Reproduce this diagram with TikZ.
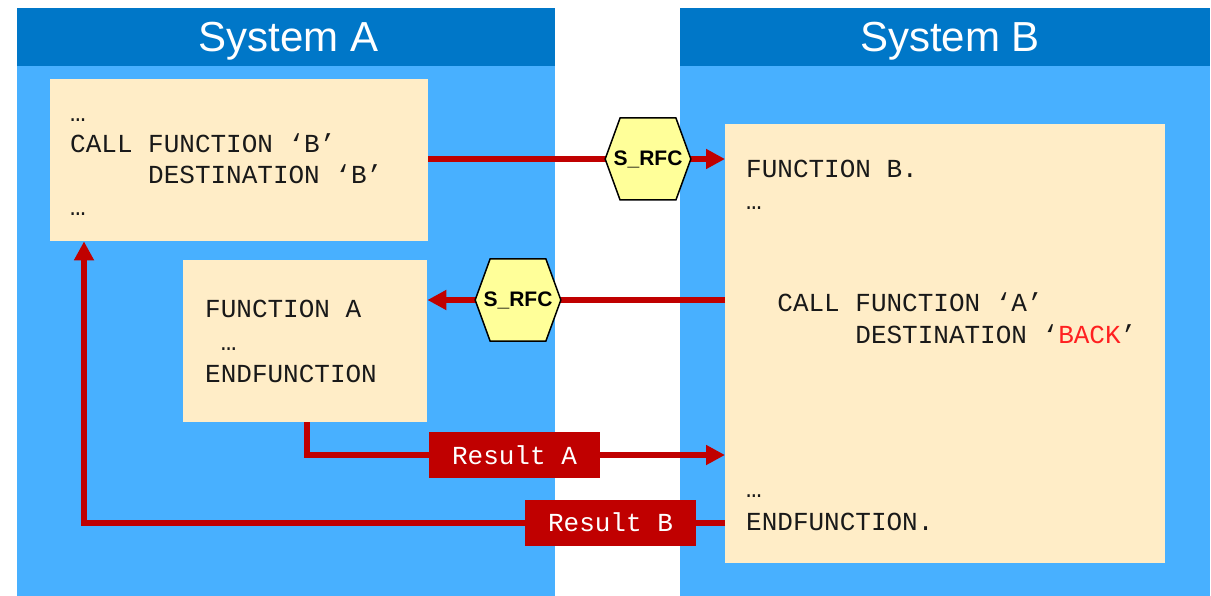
\documentclass[tikz,border=0pt]{standalone}
\usepackage{fontspec}
\setmainfont{Liberation Sans}
\newfontfamily\codefont{Liberation Mono}
\usetikzlibrary{positioning,shapes.symbols,arrows.meta}

\definecolor{hdblue}{RGB}{0,119,200}
\definecolor{panelblue}{RGB}{72,176,255}
\definecolor{codebg}{RGB}{255,237,199}
\definecolor{flowred}{RGB}{192,0,0}
\definecolor{hexyellow}{RGB}{255,255,153}
\definecolor{backred}{RGB}{255,32,32}

\pgfdeclarelayer{front}
\pgfsetlayers{main,front}

\tikzset{
  panel/.style={fill=panelblue, anchor=north west, inner sep=0pt},
  header/.style={fill=hdblue, anchor=north west, inner sep=0pt},
  title/.style={anchor=base, inner sep=0pt, text=white,
    font=\fontsize{42}{50}\selectfont},
  codebox/.style={fill=codebg, anchor=north west, inner sep=0pt},
  code/.style={anchor=base west, inner sep=0pt, text=black!90,
    font=\codefont\fontsize{26}{31}\selectfont},
  rfc/.style={signal, signal to=east and west, signal pointer angle=140,
    fill=hexyellow, draw=black, line width=1.5pt, minimum width=57pt,
    minimum height=82pt, inner xsep=-6.5pt, inner ysep=0pt,
    font=\bfseries\fontsize{21}{25}\selectfont},
  result/.style={fill=flowred, text=white, minimum width=171pt, minimum height=46pt,
    inner sep=0pt, font=\codefont\fontsize{26}{31}\selectfont},
  flow/.style={draw=flowred, line width=6pt},
  flowarrow/.style={flow, -{Triangle[length=19pt,width=19pt]}},
}

\begin{document}
\begin{tikzpicture}[x=1pt,y=-1pt]
    \useasboundingbox (0,0) rectangle (1211,596);

    % Panels of the two systems
    \node[panel, minimum width=538pt, minimum height=588pt] (sysA) at (17,8) {};
    \node[header, minimum width=538pt, minimum height=58pt] (headA) at (17,8) {};
    \node[title] (titleA) at (288.5,52) {System A};
    \node[panel, minimum width=530pt, minimum height=588pt] (sysB) at (680,8) {};
    \node[header, minimum width=530pt, minimum height=58pt] (headB) at (680,8) {};
    \node[title] (titleB) at (950,52) {System B};

    % Code boxes
    \node[codebox, minimum width=378pt, minimum height=162pt] (a1) at (50,79) {};
    \node[codebox, minimum width=244pt, minimum height=162pt] (a2) at (183,260) {};
    \node[codebox, minimum width=440pt, minimum height=439pt] (b) at (725,124) {};

    % Code in system A
    \node[code] (a1l1) at (70,122) {…};
    \node[code] (a1l2) at (70,153) {CALL FUNCTION ‘B’};
    \node[code] (a1l3) at (70,184) {\phantom{CALL }DESTINATION ‘B’};
    \node[code] (a1l4) at (70,216) {…};
    \node[code] (a2l1) at (205,317) {FUNCTION A};
    \node[code] (a2l2) at (205,350) {\phantom{F}…};
    \node[code] (a2l3) at (205,382) {ENDFUNCTION};

    % Code in system B
    \node[code] (bl1) at (746,178) {FUNCTION B.};
    \node[code] (bl2) at (746,210) {…};
    \node[code] (bl3) at (746,312) {\phantom{CA}CALL FUNCTION ‘A’};
    \node[code] (bl4) at (746,343) {\phantom{CACALL }DESTINATION ‘\textcolor{backred}{BACK}’};
    \node[code] (bl5) at (746,497) {…};
    \node[code] (bl6) at (746,530) {ENDFUNCTION.};

    \begin{pgfonlayer}{front}
        \node[rfc] (hex1) at (648,159) {S\_RFC};
        \node[rfc] (hex2) at (518,300) {S\_RFC};
        \node[result] (resA) at (514.5,455) {Result A};
        \node[result] (resB) at (610.5,522.5) {Result B};
    \end{pgfonlayer}

    % Calls
    \draw[flow] (a1.east |- hex1) -- (hex1.center);
    \draw[flowarrow] (hex1.center) -- (hex1 -| b.west);
    \draw[flow] (hex2 -| b.west) -- (hex2.center);
    \draw[flowarrow] (hex2.center) -- (hex2 -| a2.east);

    % Results
    \coordinate (bendA) at (307,455);
    \draw[flow] (bendA |- a2.south) -- (bendA) -- (resA.center);
    \draw[flowarrow] (resA.center) -- (resA -| b.west);
    \coordinate (bendB) at (84,522.5);
    \draw[flow] (resB -| b.west) -- (resB.center);
    \draw[flowarrow] (resB.center) -- (bendB) -- (bendB |- a1.south);
\end{tikzpicture}
\end{document}
